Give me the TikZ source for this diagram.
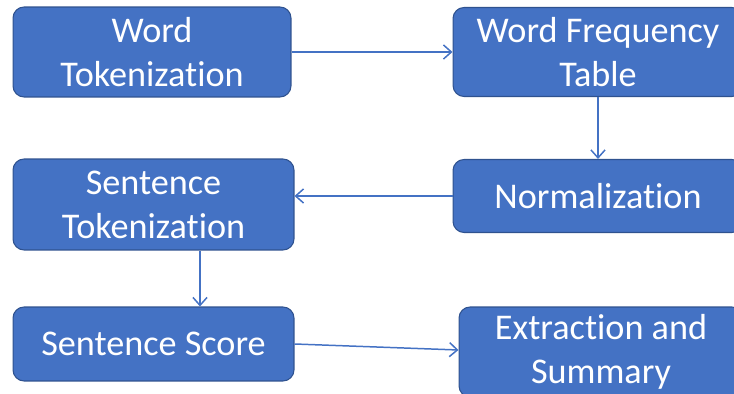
\documentclass[tikz,border=0pt]{standalone}
\usepackage{fontspec}
\setmainfont{Carlito}[Ligatures=NoCommon]
\usetikzlibrary{arrows.meta}

\definecolor{stagefill}{HTML}{4472C4}
\definecolor{stageedge}{HTML}{2F528F}

\tikzset{
    stage/.style={draw=stageedge, fill=stagefill, line width=0.6pt,
        rounded corners=0.22cm, text=white, align=center, inner sep=0pt,
        font=\fontsize{20.6}{25}\selectfont},
    flow/.style={draw=stagefill, line width=0.85pt,
        -{Straight Barb[length=4.5pt,width=8pt]}}
}

\begin{document}
\begin{tikzpicture}[x=0.02cm, y=-0.02cm]
        % Frame of the picture
        \useasboundingbox (0,0) rectangle (734,394);
        \clip (0,0) rectangle (734,394);

        % Stages
        \node[stage, minimum width=5.56cm, minimum height=1.8cm] (wordtok) at (152,52) {Word\\Tokenization};
        \node[stage, minimum width=5.8cm, minimum height=1.78cm] (freqtable) at (598,52) {Word Frequency\\Table};
        \node[stage, minimum width=5.8cm, minimum height=1.46cm] (normal) at (598,196) {Normalization};
        \node[stage, minimum width=5.62cm, minimum height=1.82cm] (senttok) at (153.5,204.5) {Sentence\\Tokenization};
        \node[stage, minimum width=5.62cm, minimum height=1.48cm] (sentscore) at (153.5,344) {Sentence Score};
        \node[stage, minimum width=5.68cm, minimum height=1.8cm] (extract) at (601,352) {Extraction and\\Summary};

        % Flow between stages
        \draw[flow] (wordtok.east) -- (freqtable.west);
        \draw[flow] (freqtable.south) -- (normal.north);
        \draw[flow] (normal.west) -- (normal.west -| senttok.east);
        \draw[flow] ([xshift=0.93cm]senttok.south) -- ([xshift=0.93cm]sentscore.north);
        \draw[flow] (sentscore.east) -- ([yshift=0.04cm]extract.west);
    \end{tikzpicture}
\end{document}
